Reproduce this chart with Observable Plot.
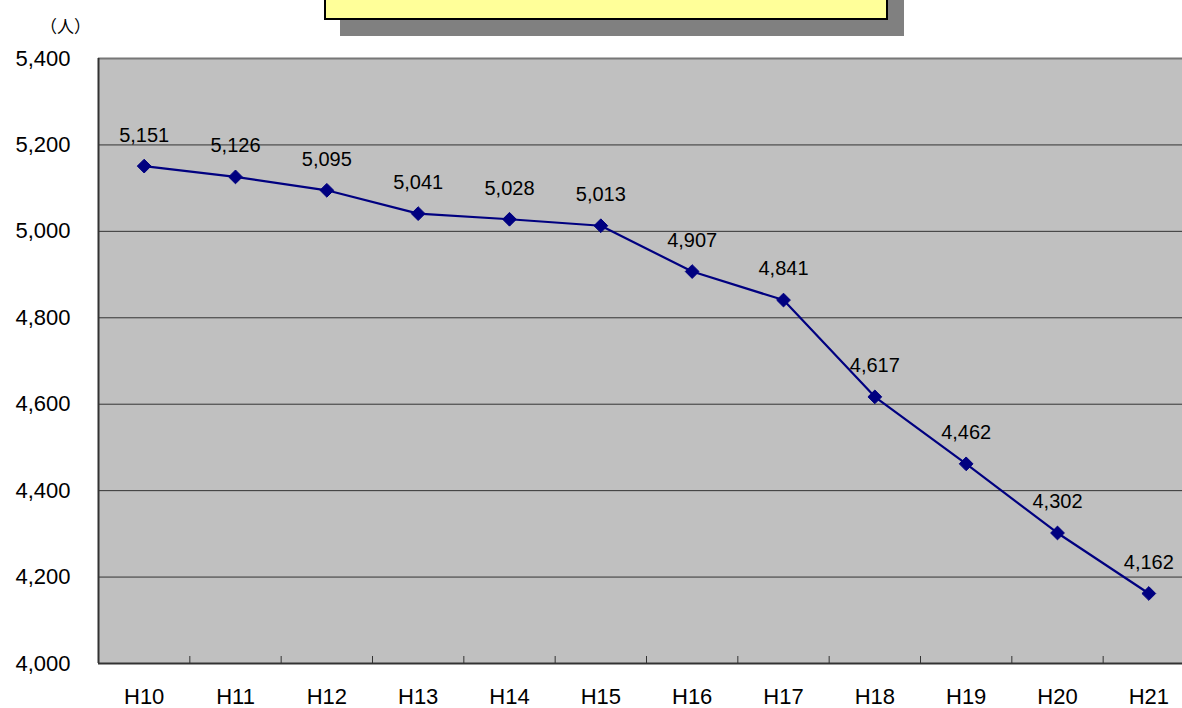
<!DOCTYPE html>
<html>
<head>
<meta charset="utf-8">
<script src="https://cdn.jsdelivr.net/npm/d3@7"></script>
<script src="https://cdn.jsdelivr.net/npm/@observablehq/plot@0.6"></script>
<style>
  html, body { margin: 0; padding: 0; background: #fff; overflow: hidden; }
  #wrap { position: relative; width: 1182px; height: 708px; overflow: hidden; }
  #chart { position: absolute; left: 0; top: 0; }
  #shadow { position: absolute; left: 340px; top: -20px; width: 564px; height: 56px; background: #808080; }
  #titlebox { position: absolute; left: 324px; top: -20px; width: 560px; height: 36px; background: #ffff99; border: 2px solid #000; }
  #unit { position: absolute; left: 40px; top: 16px; font-family: "Noto Sans CJK JP", sans-serif; font-size: 17px; line-height: 20px; color: #000; }
</style>
</head>
<body>
<div id="wrap">
  <div id="chart"></div>
  <div id="shadow"></div>
  <div id="titlebox"></div>
  <div id="unit">（人）</div>
</div>
<script>
const categories = ["H10","H11","H12","H13","H14","H15","H16","H17","H18","H19","H20","H21"];
const values = [5151,5126,5095,5041,5028,5013,4907,4841,4617,4462,4302,4162];
const yTicks = [4000,4200,4400,4600,4800,5000,5200,5400];

const data = categories.map((c, i) => ({i, label: c, value: values[i]}));
const boundaries = d3.range(1, categories.length).map(i => i - 0.5);
const fmt = d3.format(",");

const chart = Plot.plot({
  width: 1182,
  height: 708,
  marginLeft: 98,
  marginRight: 0,
  marginTop: 58,
  marginBottom: 45,
  style: {fontFamily: "'Liberation Sans', Arial, sans-serif", fontSize: "22px", color: "#000", background: "transparent"},
  x: {
    type: "linear",
    domain: [-0.5, categories.length - 0.5],
    range: [98, 1194],
    ticks: d3.range(categories.length),
    tickFormat: i => categories[i],
    tickSize: 0,
    tickPadding: 25,
    label: null
  },
  y: {
    domain: [4000, 5400],
    range: [663, 58],
    ticks: yTicks,
    tickFormat: fmt,
    tickSize: 0,
    tickPadding: 28,
    label: null
  },
  marks: [
    Plot.frame({fill: "#c0c0c0", stroke: "none"}),
    Plot.ruleY(yTicks.slice(1, -1), {stroke: "#333", strokeWidth: 1}),
    Plot.ruleY(yTicks.slice(-1), {stroke: "#777", strokeWidth: 2}),
    Plot.ruleX(boundaries, {y1: 4000, y2: 4000, insetTop: -7, stroke: "#333", strokeWidth: 1}),
    Plot.ruleY([4000], {stroke: "#333", strokeWidth: 2}),
    Plot.ruleX([-0.5], {stroke: "#333", strokeWidth: 2}),
    Plot.line(data, {x: "i", y: "value", stroke: "#000080", strokeWidth: 2.2}),
    Plot.dot(data, {x: "i", y: "value", symbol: "diamond2", r: 6.2, fill: "#000080", stroke: "#000080", strokeWidth: 1}),
    Plot.text(data, {x: "i", y: "value", text: d => fmt(d.value), dy: -31, fontSize: 20, fill: "#000"})
  ]
});
document.getElementById("chart").appendChild(chart);
</script>
</body>
</html>
